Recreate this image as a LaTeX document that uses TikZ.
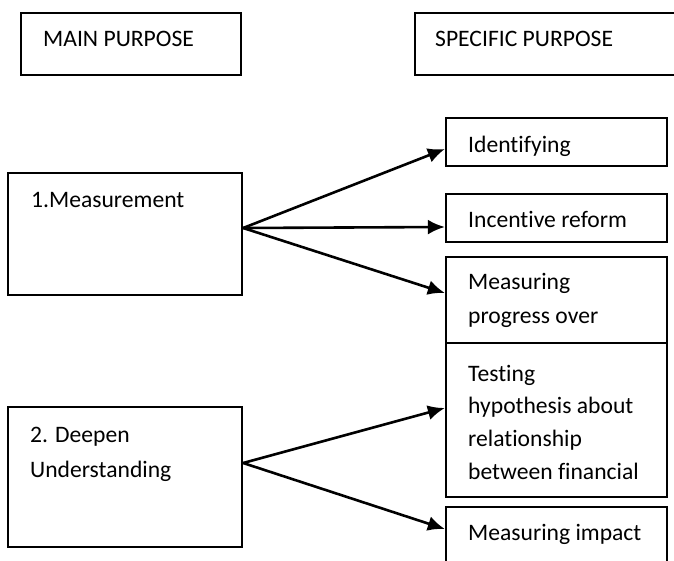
\documentclass[tikz,border=0pt]{standalone}
\usepackage{fontspec}
\setmainfont{Carlito}[Ligatures=NoCommon]
\usetikzlibrary{arrows.meta}
\tikzset{
  box/.style={draw=black, line width=2.3pt, inner sep=0pt, fill=none},
  txt/.style={anchor=base west, inner sep=0pt, font=\fontsize{23.6}{28}\selectfont},
  arr/.style={line width=2.6pt, -{Latex[length=17pt,width=15pt]}}
}
\newcommand\mkbox[5]{\node[box, minimum width={(#4)-(#2)}, minimum height={(#5)-(#3)}] (#1) at ({((#2)+(#4))/2},{((#3)+(#5))/2}) {};}
\begin{document}
\begin{tikzpicture}[x=1pt,y=-1pt]
\useasboundingbox (0,0) rectangle (674,561);
\fill[white] (0,0) rectangle (674,561);
\clip (0,0) rectangle (674,561);
% boxes
\mkbox{mainh}{21}{13}{241}{75}
\mkbox{spech}{415}{13}{700}{75}
\mkbox{meas}{8}{173}{242}{295}
\mkbox{deep}{8}{407}{242}{547}
\mkbox{ident}{446}{118}{667}{166}
\mkbox{incent}{446}{194}{667}{242}
\mkbox{progr}{446}{257}{667}{343}
\mkbox{test}{446}{343}{667}{497}
\mkbox{impact}{446}{507}{667}{600}
% texts
\node[txt] (tmain) at (43,47) {MAIN PURPOSE};
\node[txt] (tspec) at (435,47) {SPECIFIC PURPOSE};
\node[txt] (tmeas) at (31,208) {1.Measurement};
\node[txt] (tdeep1) at (30,442) {2. Deepen};
\node[txt] (tdeep2) at (30,477) {Understanding};
\node[txt] (tident) at (468,153) {Identifying};
\node[txt] (tinc) at (468,228) {Incentive reform};
\node[txt] (tprog1) at (468,289) {Measuring};
\node[txt] (tprog2) at (468,323) {progress over};
\node[txt] (ttest1) at (468,381) {Testing};
\node[txt] (ttest2) at (468,413) {hypothesis about};
\node[txt] (ttest3) at (468,446) {relationship};
\node[txt] (ttest4) at (468,479) {between financial};
\node[txt] (timp) at (468,540) {Measuring impact};
% connectors
\coordinate (o1) at (meas.east |- 0,228);
\coordinate (o2) at (deep.east |- 0,463);
\draw[arr] (o1) -- (ident.west |- 0,149);
\draw[arr] (o1) -- (incent.west |- 0,227);
\draw[arr] (o1) -- (progr.west |- 0,293);
\draw[arr] (o2) -- (test.west |- 0,408);
\draw[arr] (o2) -- (impact.west |- 0,529);
\end{tikzpicture}
\end{document}
